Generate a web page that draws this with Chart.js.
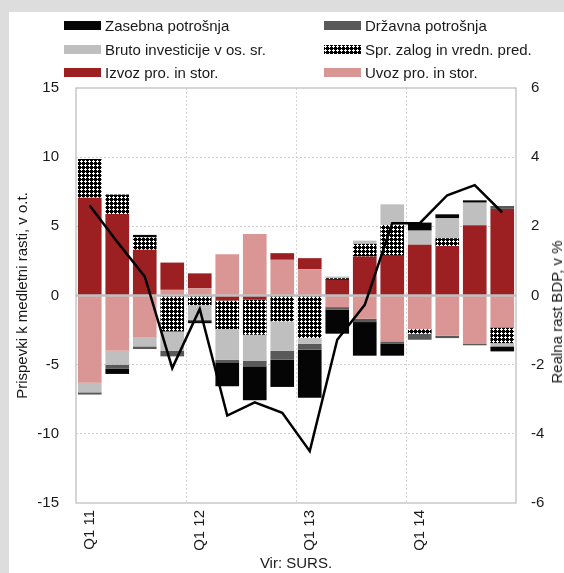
<!DOCTYPE html>
<html lang="sl">
<head>
<meta charset="UTF-8">
<title>Prispevki k rasti BDP</title>
<script src="https://cdn.jsdelivr.net/npm/chart.js"></script>
<style>
  body { margin: 0; width: 564px; height: 573px; background: #dcdddc; overflow: hidden; position: relative;
         font-family: 'Liberation Sans', Arial, sans-serif; color: #1a1a1a; }
  #panel { position: absolute; left: 9px; top: 12px; width: 555px; height: 561px; background: #fff; }
  #chart { position: absolute; left: 0; top: 0; }
  .leg { position: absolute; font-size: 15px; line-height: 18px; white-space: nowrap; padding-left: 41px; }
  .leg .box { position: absolute; left: 0; top: 4px; width: 37px; height: 9px; }
  #rtitle { position: absolute; font-size: 15px; line-height: 18px; white-space: nowrap;
            transform: translate(-50%, -50%) rotate(-90deg); left: 557px; top: 312px; }
</style>
</head>
<body>
<div id="panel"></div>
<canvas id="chart" width="564" height="573"></canvas>
<div id="legend"></div>
<div id="rtitle">Realna rast BDP, v %</div>
<script>
// kvartali
var labels = ['Q1 11', '', '', '', 'Q1 12', '', '', '', 'Q1 13', '', '', '', 'Q1 14', '', '', ''];

// prispevki k medletni rasti (o.t.)
var zasebna  = [0, -0.37, 0.18, 0, -0.15, -1.73, -2.45, -1.97, -3.48, -1.73, -2.43, -0.85, 0.58, 0.29, 0.17, -0.36];
var drzavna  = [-0.16, -0.3, -0.19, -0.4, -0.1, -0.19, -0.41, -0.65, -0.42, -0.19, -0.24, -0.18, -0.44, -0.17, -0.1, 0.21];
var bruto    = [-0.7, -1.0, -0.68, -1.4, -1.05, -2.21, -1.87, -2.12, -0.42, 0.12, 0.24, 1.49, 1.03, 1.44, 1.63, -0.24];
var zalogi   = [2.8, 1.4, 0.9, -2.6, -0.7, -2.07, -2.53, -1.87, -3.08, 0.12, 0.91, 2.23, -0.33, 0.56, 0, -1.13];
var izvoz    = [7.07, 5.9, 3.3, 1.97, 1.07, -0.36, -0.31, 0.48, 0.8, 1.13, 2.82, 2.87, 3.66, 3.58, 5.08, 6.26];
var uvoz     = [-6.3, -4.0, -3.0, 0.41, 0.53, 2.99, 4.45, 2.58, 1.9, -0.84, -1.68, -3.32, -2.43, -2.91, -3.5, -2.31];

// realna rast BDP (%)
var rastBDP  = [2.6, 1.55, 0.55, -2.1, -0.39, -3.47, -3.09, -3.39, -4.5, -1.28, -0.27, 2.09, 2.09, 2.9, 3.19, 2.4];

var leftTicks = [15, 10, 5, 0, -5, -10, -15];
var rightTicks = [6, 4, 2, 0, -2, -4, -6];

var FONT = "'Liberation Sans', Arial, sans-serif";

// vzorec za spremembo zalog
function makePattern() {
    var c = document.createElement('canvas');
    c.width = 4; c.height = 4;
    var g = c.getContext('2d');
    g.fillStyle = '#000';
    g.fillRect(0, 0, 4, 4);
    g.fillStyle = '#fff';
    g.fillRect(1, 0, 1, 3);
    g.fillRect(0, 1, 3, 1);
    return c;
}
var patCanvas = makePattern();
var ctx = document.getElementById('chart').getContext('2d');
var pattern = ctx.createPattern(patCanvas, 'repeat');

// vrstni red skladanja: uvoz, izvoz, zaloge, investicije, drzavna, zasebna
var series = [
    { label: 'Uvoz pro. in stor.', data: uvoz, color: '#d99694' },
    { label: 'Izvoz pro. in stor.', data: izvoz, color: '#9c1f22' },
    { label: 'Spr. zalog in vredn. pred.', data: zalogi, color: pattern, css: 'url(' + patCanvas.toDataURL() + ')' },
    { label: 'Bruto investicije v os. sr.', data: bruto, color: '#bfbfbf' },
    { label: 'Državna potrošnja', data: drzavna, color: '#595959' },
    { label: 'Zasebna potrošnja', data: zasebna, color: '#050505' }
];

var datasets = series.map(function (s) {
    return {
        type: 'bar',
        label: s.label,
        data: s.data,
        backgroundColor: s.color,
        borderWidth: 0,
        barPercentage: 0.86,
        categoryPercentage: 1,
        yAxisID: 'y'
    };
});
datasets.push({
    type: 'line',
    label: 'Realna rast BDP',
    data: rastBDP,
    borderColor: '#000',
    borderWidth: 2.5,
    pointRadius: 0,
    tension: 0,
    yAxisID: 'y1',
    order: -1
});

// legenda (dva stolpca)
var legendOrder = [5, 4, 3, 2, 1, 0];
var legendEl = document.getElementById('legend');
legendOrder.forEach(function (si, i) {
    var s = series[si];
    var d = document.createElement('div');
    d.className = 'leg';
    d.style.left = (i % 2 ? 324 : 64) + 'px';
    d.style.top = (17 + Math.floor(i / 2) * 23.5) + 'px';
    var b = document.createElement('span');
    b.className = 'box';
    if (s.css) b.style.backgroundImage = s.css; else b.style.background = s.color;
    d.appendChild(b);
    d.appendChild(document.createTextNode(s.label));
    legendEl.appendChild(d);
});

var framePlugin = {
    id: 'frame',
    beforeDatasetsDraw: function (chart) {
        var a = chart.chartArea, c = chart.ctx;
        c.save();
        c.strokeStyle = '#c8c8c8';
        c.lineWidth = 1.5;
        c.strokeRect(a.left, a.top, a.right - a.left, a.bottom - a.top);
        c.restore();
    },
    beforeDatasetDraw: function (chart, args) {
        if (args.meta.type !== 'line') return;
        var a = chart.chartArea, c = chart.ctx;
        var y0 = chart.scales.y.getPixelForValue(0);
        c.save();
        c.strokeStyle = '#bfbfbf';
        c.lineWidth = 2.5;
        c.beginPath();
        c.moveTo(a.left, y0);
        c.lineTo(a.right, y0);
        c.stroke();
        c.restore();
    }
};

new Chart(ctx, {
    data: { labels: labels, datasets: datasets },
    options: {
        responsive: false,
        animation: false,
        devicePixelRatio: 1,
        layout: { padding: { left: 0, right: 0, top: 88, bottom: 0 } },
        plugins: { legend: { display: false }, tooltip: { enabled: false } },
        scales: {
            x: {
                stacked: true,
                offset: true,
                afterFit: function (s) { s.height = 70; },
                grid: {
                    offset: true,
                    drawTicks: false,
                    lineWidth: 1,
                    color: function (c) { return c.index % 4 === 0 && c.index > 0 ? '#d4d4d4' : 'rgba(0,0,0,0)'; }
                },
                border: { display: false, dash: [2, 2] },
                ticks: {
                    autoSkip: false,
                    maxRotation: 90,
                    minRotation: 90,
                    padding: 7,
                    color: '#1a1a1a',
                    font: { family: FONT, size: 15 }
                },
                title: {
                    display: true,
                    text: 'Vir: SURS.',
                    color: '#1a1a1a',
                    font: { family: FONT, size: 15 },
                    padding: { top: 0, bottom: 0 }
                }
            },
            y: {
                stacked: true,
                position: 'left',
                min: -15,
                max: 15,
                afterFit: function (s) { s.width = 76; },
                afterBuildTicks: function (s) { s.ticks = leftTicks.map(function (v) { return { value: v }; }); },
                grid: {
                    drawTicks: false,
                    lineWidth: 1,
                    color: function (c) {
                        var v = c.tick && c.tick.value;
                        return (v === 0 || v === 15 || v === -15) ? 'rgba(0,0,0,0)' : '#cfcfcf';
                    }
                },
                border: { display: false, dash: [2, 2] },
                ticks: {
                    padding: 17,
                    color: '#1a1a1a',
                    font: { family: FONT, size: 15 }
                },
                title: {
                    display: true,
                    text: 'Prispevki k medletni rasti, v o.t.',
                    color: '#1a1a1a',
                    font: { family: FONT, size: 15 },
                    padding: { top: 14, bottom: 0 }
                }
            },
            y1: {
                stacked: false,
                position: 'right',
                min: -6,
                max: 6,
                afterFit: function (s) { s.width = 48; },
                afterBuildTicks: function (s) { s.ticks = rightTicks.map(function (v) { return { value: v }; }); },
                grid: { display: false, drawTicks: false },
                border: { display: false },
                ticks: {
                    padding: 15,
                    color: '#1a1a1a',
                    font: { family: FONT, size: 15 }
                }
            }
        }
    },
    plugins: [framePlugin]
});
</script>
</body>
</html>
